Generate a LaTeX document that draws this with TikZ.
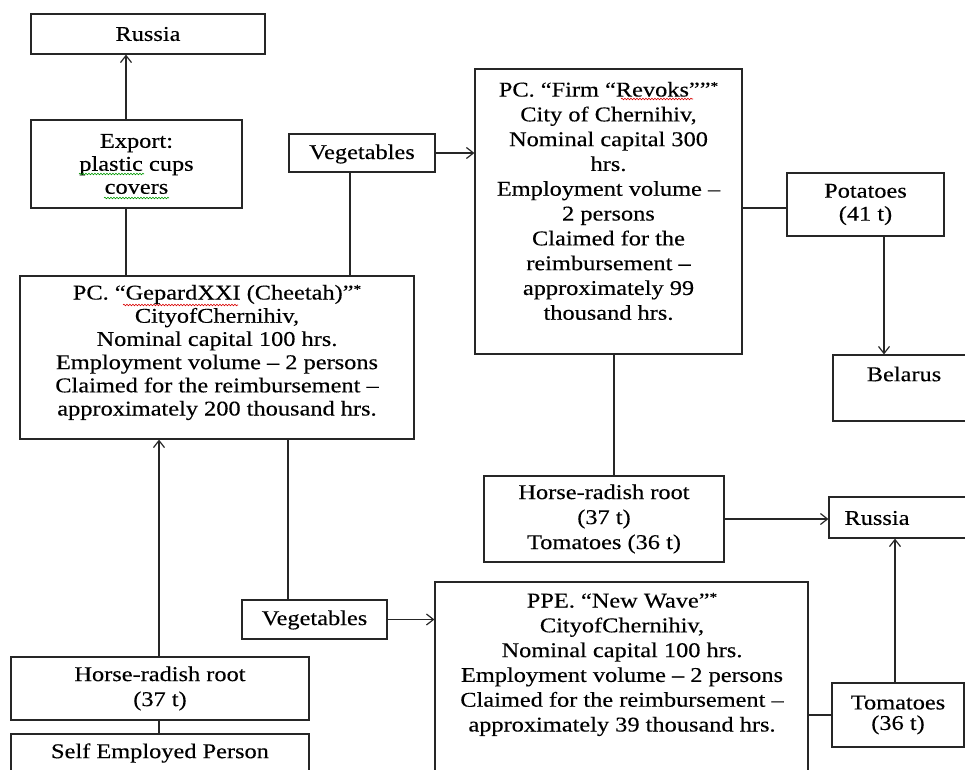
\documentclass[tikz,border=0pt]{standalone}
\usepackage{fontspec}
\setmainfont{Liberation Serif}[FakeStretch=1.16,FakeBold=0.3]
\usetikzlibrary{arrows.meta,decorations.pathmorphing}
\newcommand\starmark{\raisebox{6pt}{\fontsize{13}{13}\selectfont *}}
\begin{document}
\begin{tikzpicture}[x=1pt,y=-1pt,
  box/.style={draw=black!85, line width=1.2pt, inner sep=0pt},
  txt/.style={align=center, inner sep=0pt, font=\fontsize{21}{24.8}\selectfont},
  arr/.style={-{Straight Barb[length=7pt,width=11pt]}, line width=1.2pt, draw=black!85},
  con/.style={line width=1.2pt, draw=black!85},
  wavyred/.style={draw=red!85!black, line width=0.6pt, decorate, decoration={snake,segment length=3pt,amplitude=0.8pt}},
  wavygreen/.style={draw=green!60!black, line width=0.6pt, decorate, decoration={snake,segment length=3pt,amplitude=0.8pt}}]
\useasboundingbox (0,0) rectangle (965,769);
\clip (0,0) rectangle (965,769);

% boxes
\node[box, txt, minimum width=234pt, minimum height=40pt] (russiaA) at (148,34) {Russia};
\node[box, txt, minimum width=211pt, minimum height=88pt, font=\fontsize{21}{23}\selectfont] (export) at (136.5,164) {Export:\\plastic cups\\covers};
\node[box, minimum width=146pt, minimum height=38pt] (veg1) at (362,153) {};
\node[txt] (veg1T) at (362,154) {Vegetables};
\node[box, minimum width=394pt, minimum height=163pt] (gepard) at (217,357.5) {};
\node[txt, font=\fontsize{21}{23.2}\selectfont] (gepardT) at (217,352.5) {PC. “GepardXXI (Cheetah)”\starmark\\CityofChernihiv,\\Nominal capital 100 hrs.\\Employment volume – 2 persons\\Claimed for the reimbursement –\\approximately 200 thousand hrs.};
\node[box, minimum width=267pt, minimum height=285pt] (revoks) at (608.5,211.5) {};
\node[txt] (revoksT) at (608.5,201) {PC. “Firm “Revoks””\starmark\\City of Chernihiv,\\Nominal capital 300\\hrs.\\Employment volume –\\2 persons\\Claimed for the\\reimbursement –\\approximately 99\\thousand hrs.};
\node[box, txt, minimum width=157pt, minimum height=63pt, font=\fontsize{21}{23}\selectfont] (potatoes) at (865.5,204.5) {Potatoes\\(41 t)};
\node[box, minimum width=142pt, minimum height=66pt] (belarus) at (904,388) {};
\node[txt] (belarusT) at (904,374) {Belarus};
\node[box, txt, minimum width=240pt, minimum height=86pt, font=\fontsize{21}{25}\selectfont] (hr2) at (604,519) {Horse-radish root\\(37 t)\\Tomatoes (36 t)};
\node[box, minimum width=146pt, minimum height=41pt] (russia2) at (902,517.5) {};
\node[txt] (russia2T) at (877,518) {Russia};
\node[box, txt, minimum width=132pt, minimum height=64pt, font=\fontsize{21}{20.5}\selectfont] (tomatoes) at (898,715) {Tomatoes\\(36 t)};
\node[box, minimum width=373pt, minimum height=208pt] (ppe) at (621.5,686) {};
\node[txt] (ppeT) at (622,664.5) {PPE. “New Wave”\starmark\\CityofChernihiv,\\Nominal capital 100 hrs.\\Employment volume – 2 persons\\Claimed for the reimbursement –\\approximately 39 thousand hrs.};
\node[box, minimum width=145pt, minimum height=39pt] (veg2) at (314.5,619.5) {};
\node[txt] (veg2T) at (314.5,620) {Vegetables};
\node[box, txt, minimum width=298pt, minimum height=63pt, font=\fontsize{21}{25}\selectfont] (hr1) at (160,688.5) {Horse-radish root\\(37 t)};
\node[box, minimum width=298pt, minimum height=56pt] (selfemp) at (160,762) {};
\node[txt] (selfempT) at (160,753) {Self Employed Person};

% helper coordinates
\coordinate (xA) at (126,0);
\coordinate (xB) at (350,0);
\coordinate (yC) at (0,208);
\coordinate (xD) at (884,0);
\coordinate (xE) at (614,0);
\coordinate (xF) at (895,0);
\coordinate (xG) at (288,0);
\coordinate (xH) at (159,0);

% connectors
\draw[arr] (xA |- export.north) -- (xA |- russiaA.south);
\draw[con] (xA |- gepard.north) -- (xA |- export.south);
\draw[con] (xB |- veg1.south) -- (xB |- gepard.north);
\draw[arr] (veg1.east) -- (veg1.east -| revoks.west);
\draw[con] (yC -| revoks.east) -- (yC -| potatoes.west);
\draw[arr] (xD |- potatoes.south) -- (xD |- belarus.north);
\draw[con] (xE |- revoks.south) -- (xE |- hr2.north);
\draw[arr] (hr2.east) -- (hr2.east -| russia2.west);
\draw[arr] (xF |- tomatoes.north) -- (xF |- russia2.south);
\draw[con] (tomatoes.west -| ppe.east) -- (tomatoes.west);
\draw[con] (xG |- gepard.south) -- (xG |- veg2.north);
\draw[arr] (veg2.east) -- (veg2.east -| ppe.west);
\draw[arr] (xH |- hr1.north) -- (xH |- gepard.south);
\draw[con] (xH |- hr1.south) -- (xH |- selfemp.north);

% spell-check underlines
\draw[wavygreen] (79,174) -- (144,174);
\draw[wavygreen] (104,198) -- (169,198);
\draw[wavyred] (123,305) -- (238,305);
\draw[wavyred] (621,99) -- (693,99);
\end{tikzpicture}
\end{document}
